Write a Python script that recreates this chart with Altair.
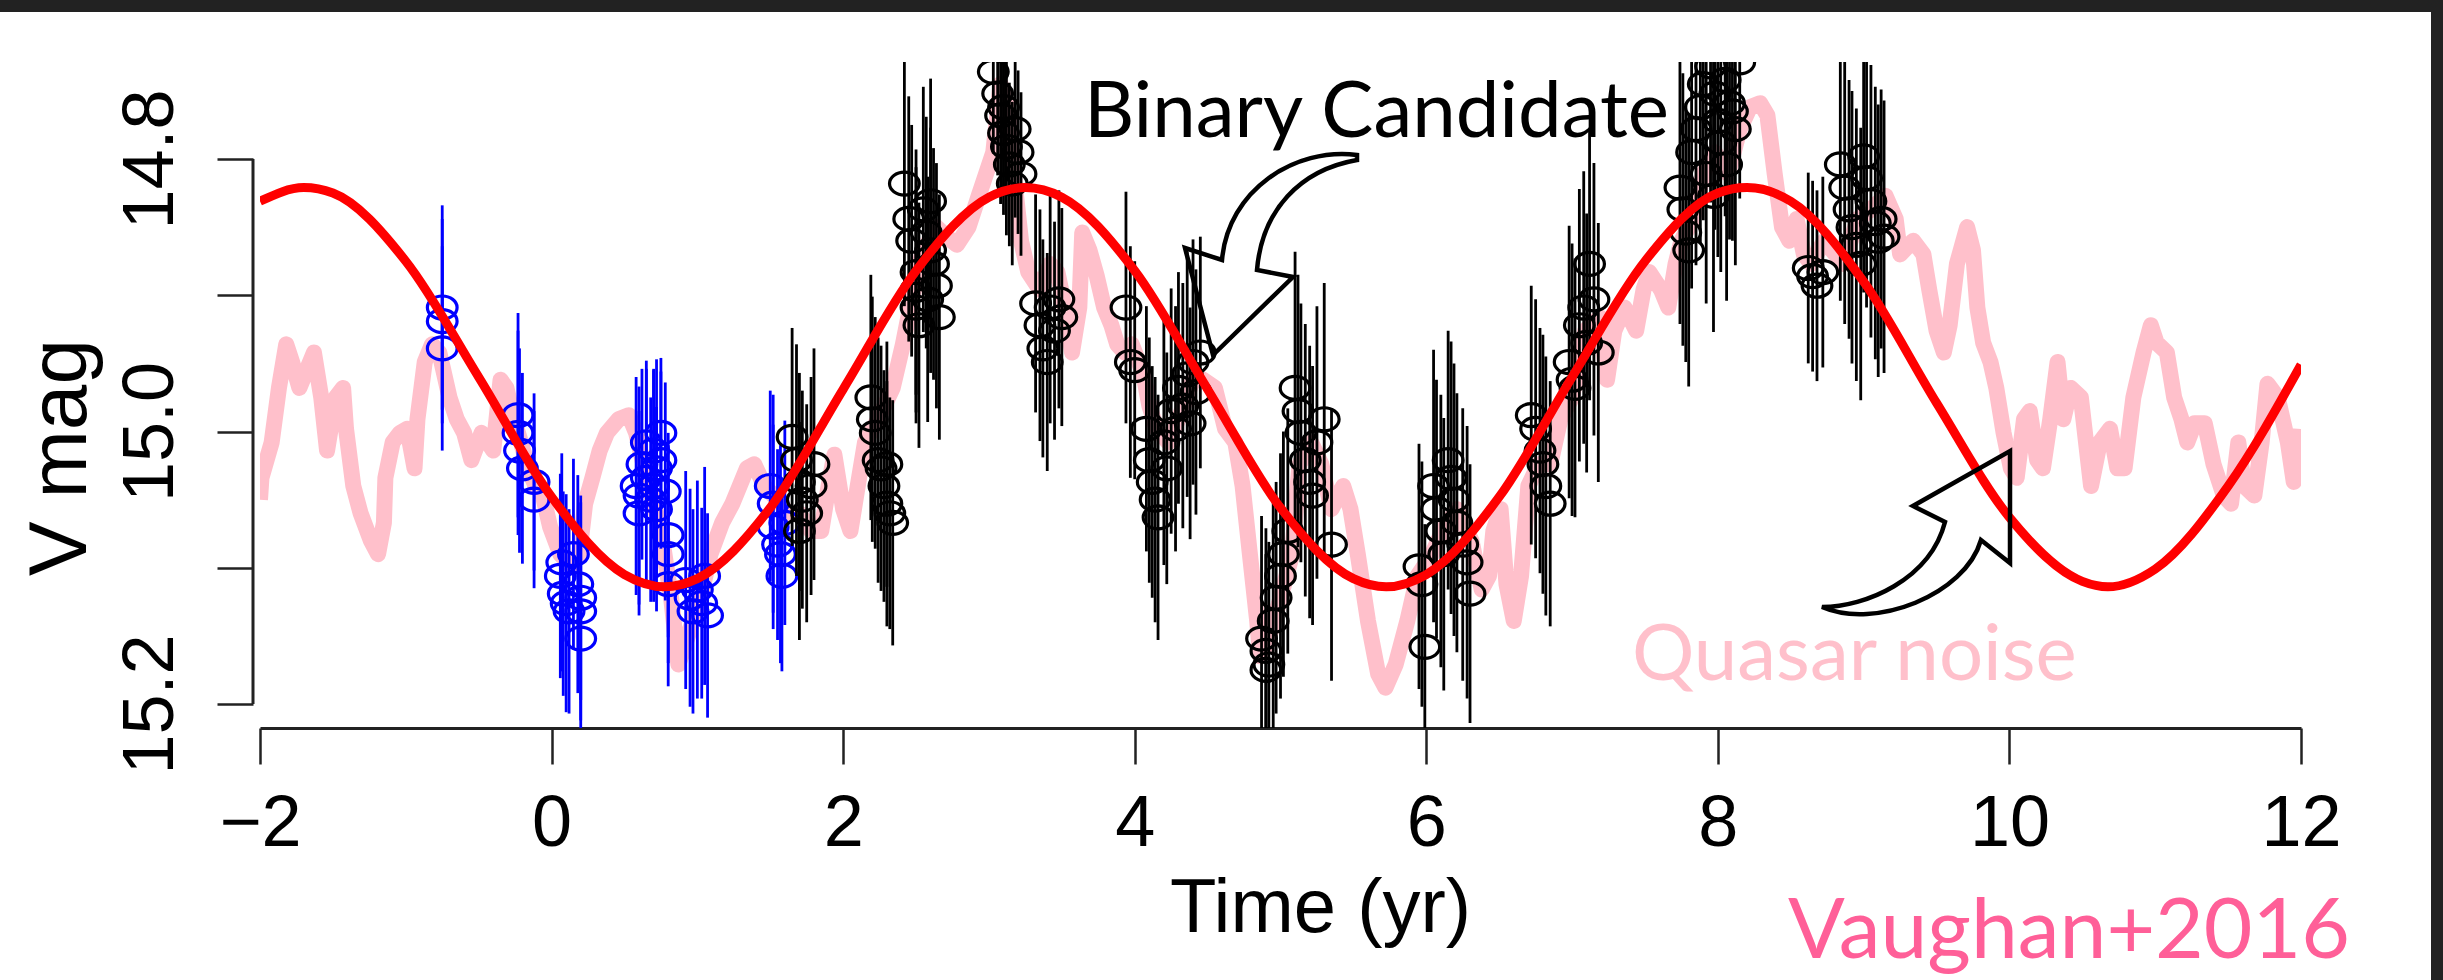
import altair as alt
import pandas as pd

# ---------------- data ----------------
# sinusoidal binary model (red)  (time [yr], V mag)
model_curve = [
    (-2.0, 14.831), (-1.7, 14.821), (-1.5, 14.825), (-1.0, 14.875), (-0.5, 14.960),
    (0.0, 15.048), (0.5, 15.105), (0.775, 15.114), (1.0, 15.108), (1.5, 15.056),
    (2.0, 14.969), (2.5, 14.882), (3.0, 14.828), (3.25, 14.821), (3.5, 14.828),
    (4.0, 14.882), (4.5, 14.969), (5.0, 15.056), (5.5, 15.108), (5.725, 15.114),
    (6.0, 15.105), (6.5, 15.048), (7.0, 14.960), (7.5, 14.875), (8.0, 14.825),
    (8.2, 14.821), (8.5, 14.831), (9.0, 14.890), (9.5, 14.979), (10.0, 15.063),
    (10.5, 15.110), (10.675, 15.114), (11.0, 15.101), (11.5, 15.040), (12.0, 14.951),
]

# quasar red-noise realisation (pink)
pink_noise = [
    (-2.00, 15.050), (-1.99, 15.034), (-1.92, 15.008), (-1.87, 14.968), (-1.82, 14.936),
    (-1.78, 14.949), (-1.73, 14.968), (-1.68, 14.955), (-1.63, 14.942), (-1.58, 14.975),
    (-1.54, 15.014), (-1.48, 14.975), (-1.43, 14.968), (-1.41, 14.998), (-1.36, 15.040),
    (-1.31, 15.060), (-1.24, 15.080), (-1.19, 15.090), (-1.15, 15.067), (-1.14, 15.034),
    (-1.09, 15.008), (-1.04, 15.001), (-0.99, 14.998), (-0.94, 15.027), (-0.92, 14.991),
    (-0.87, 14.949), (-0.82, 14.936), (-0.77, 14.942), (-0.70, 14.975), (-0.65, 14.991),
    (-0.60, 15.001), (-0.55, 15.021), (-0.48, 15.001), (-0.40, 15.014), (-0.35, 14.962),
    (-0.31, 14.968), (-0.26, 14.991), (-0.21, 15.008), (-0.16, 15.027), (-0.11, 15.040),
    (-0.06, 15.047), (-0.01, 15.070), (0.06, 15.090), (0.14, 15.099), (0.19, 15.090),
    (0.23, 15.053), (0.28, 15.034), (0.33, 15.014), (0.38, 15.001), (0.46, 14.991),
    (0.53, 14.988), (0.58, 15.001), (0.63, 15.024), (0.75, 15.073), (0.82, 15.122),
    (0.87, 15.171), (0.92, 15.155), (1.02, 15.122), (1.09, 15.090), (1.17, 15.067),
    (1.24, 15.053), (1.29, 15.040), (1.34, 15.027), (1.39, 15.024), (1.46, 15.040),
    (1.55, 15.050), (1.62, 15.060),
    (1.70, 15.060), (1.78, 15.073), (1.85, 15.073), (1.90, 15.040), (1.94, 15.017),
    (2.00, 15.057), (2.05, 15.073), (2.10, 15.040), (2.15, 15.008), (2.24, 14.991),
    (2.34, 14.968), (2.41, 14.936), (2.46, 14.909), (2.54, 14.870), (2.64, 14.850),
    (2.71, 14.857), (2.78, 14.863), (2.86, 14.850), (2.93, 14.827), (2.98, 14.811),
    (3.03, 14.795), (3.08, 14.745), (3.13, 14.762), (3.17, 14.811), (3.22, 14.860),
    (3.27, 14.883), (3.35, 14.896), (3.42, 14.877), (3.47, 14.883), (3.52, 14.909),
    (3.57, 14.942), (3.62, 14.909), (3.64, 14.854), (3.69, 14.867), (3.74, 14.886),
    (3.79, 14.909), (3.84, 14.922), (3.88, 14.936), (3.93, 14.942), (3.98, 14.936),
    (4.06, 14.958), (4.10, 14.981), (4.15, 14.998), (4.23, 15.008), (4.30, 14.991),
    (4.40, 14.962), (4.47, 14.962), (4.55, 14.968), (4.62, 14.998), (4.69, 15.008),
    (4.74, 15.040), (4.79, 15.090), (4.84, 15.139), (4.86, 15.165), (4.91, 15.155),
    (4.99, 15.126), (5.08, 15.090), (5.13, 15.024), (5.21, 15.008), (5.28, 15.024),
    (5.35, 15.057), (5.43, 15.040),
    (5.48, 15.057), (5.53, 15.090), (5.60, 15.139), (5.67, 15.178), (5.72, 15.188),
    (5.79, 15.171), (5.87, 15.139), (5.94, 15.106), (6.04, 15.090), (6.11, 15.073),
    (6.21, 15.057), (6.31, 15.080), (6.38, 15.116), (6.43, 15.106), (6.46, 15.073),
    (6.51, 15.057), (6.55, 15.112), (6.60, 15.139), (6.65, 15.106), (6.70, 15.040),
    (6.77, 15.024), (6.85, 15.024), (6.92, 14.991), (7.00, 14.975), (7.09, 14.926),
    (7.19, 14.916), (7.24, 14.962), (7.29, 14.926), (7.36, 14.909), (7.44, 14.926),
    (7.49, 14.896), (7.53, 14.883), (7.61, 14.896), (7.66, 14.909), (7.71, 14.877),
    (7.75, 14.860), (7.83, 14.844), (7.90, 14.811), (7.98, 14.795), (8.07, 14.811),
    (8.15, 14.778), (8.22, 14.762), (8.29, 14.759), (8.34, 14.768), (8.39, 14.811),
    (8.44, 14.850), (8.49, 14.860), (8.54, 14.844), (8.59, 14.870), (8.64, 14.877),
    (8.73, 14.860), (8.86, 14.877), (8.96, 14.844), (9.05, 14.837), (9.15, 14.827),
    (9.22, 14.844),
    (9.25, 14.870), (9.34, 14.860), (9.41, 14.870), (9.45, 14.896), (9.50, 14.926),
    (9.55, 14.942), (9.59, 14.922), (9.64, 14.877), (9.71, 14.850), (9.75, 14.867),
    (9.78, 14.909), (9.82, 14.935), (9.87, 14.949), (9.91, 14.968), (9.96, 15.001),
    (10.01, 15.027), (10.05, 15.034), (10.10, 14.991), (10.14, 14.985), (10.19, 15.021),
    (10.23, 15.027), (10.28, 14.991), (10.33, 14.949), (10.37, 14.991), (10.42, 14.968),
    (10.49, 14.975), (10.56, 15.040), (10.62, 15.008), (10.69, 14.998), (10.74, 15.027),
    (10.79, 15.027), (10.85, 14.975), (10.92, 14.942), (10.97, 14.922), (11.01, 14.935),
    (11.08, 14.942), (11.13, 14.975), (11.18, 14.991), (11.22, 15.008), (11.27, 14.994),
    (11.34, 14.994), (11.40, 15.024), (11.47, 15.047), (11.52, 15.053), (11.57, 15.008),
    (11.61, 15.040), (11.68, 15.047), (11.73, 15.008), (11.77, 14.965), (11.84, 14.975),
    (11.91, 15.008), (11.95, 15.037), (11.98, 14.998),
]

# archival photometry (blue): time, mag, 1-sigma error
blue_points = [
    (-0.75, 14.909, 0.075), (-0.75, 14.919, 0.075), (-0.75, 14.939, 0.075),
    (-0.23, 14.988, 0.075), (-0.23, 15.001, 0.075), (-0.22, 15.014, 0.075),
    (-0.20, 15.027, 0.070), (-0.12, 15.037, 0.065), (-0.12, 15.050, 0.065),
    (0.06, 15.106, 0.075), (0.07, 15.096, 0.080), (0.08, 15.119, 0.075),
    (0.10, 15.126, 0.080), (0.12, 15.132, 0.075), (0.15, 15.090, 0.070),
    (0.18, 15.112, 0.080), (0.20, 15.122, 0.075), (0.20, 15.132, 0.080),
    (0.20, 15.152, 0.070),
    (0.58, 15.040, 0.080), (0.60, 15.047, 0.080), (0.60, 15.060, 0.075),
    (0.62, 15.024, 0.070), (0.65, 15.008, 0.060), (0.65, 15.034, 0.080),
    (0.68, 15.050, 0.075), (0.70, 15.014, 0.060), (0.70, 15.040, 0.085),
    (0.72, 15.027, 0.080), (0.72, 15.057, 0.075), (0.75, 15.001, 0.055),
    (0.75, 15.021, 0.065), (0.78, 15.044, 0.080), (0.80, 15.076, 0.075),
    (0.80, 15.090, 0.080), (0.80, 15.112, 0.075),
    (0.92, 15.109, 0.080), (0.95, 15.122, 0.080), (0.97, 15.132, 0.075),
    (1.00, 15.116, 0.080), (1.03, 15.126, 0.070), (1.05, 15.106, 0.080),
    (1.07, 15.135, 0.075),
    (1.50, 15.040, 0.070), (1.52, 15.053, 0.080), (1.52, 15.070, 0.075),
    (1.55, 15.083, 0.070), (1.57, 15.090, 0.080), (1.58, 15.106, 0.070),
    (1.60, 15.067, 0.075),
]

# CRTS photometry (black): time, mag, 1-sigma error
black_points = [
    (1.65, 15.004, 0.080), (1.68, 15.021, 0.085), (1.70, 15.037, 0.080), (1.70, 15.073, 0.080),
    (1.72, 15.050, 0.080), (1.75, 15.060, 0.080), (1.78, 15.040, 0.080), (1.80, 15.024, 0.085),
    (2.19, 14.975, 0.090), (2.20, 14.991, 0.090), (2.22, 15.001, 0.085), (2.24, 15.021, 0.090),
    (2.26, 15.027, 0.090), (2.28, 15.040, 0.085), (2.30, 15.024, 0.090), (2.30, 15.053, 0.090),
    (2.32, 15.060, 0.085), (2.34, 15.067, 0.090),
    (2.42, 14.818, 0.090), (2.45, 14.844, 0.090), (2.47, 14.860, 0.085), (2.50, 14.883, 0.090),
    (2.50, 14.896, 0.090), (2.50, 14.909, 0.085), (2.52, 14.922, 0.090), (2.55, 14.837, 0.090),
    (2.57, 14.854, 0.085), (2.58, 14.903, 0.090), (2.60, 14.831, 0.090), (2.60, 14.867, 0.090),
    (2.62, 14.877, 0.085), (2.64, 14.893, 0.090), (2.66, 14.916, 0.090),
    (3.03, 14.736, 0.060), (3.06, 14.752, 0.060), (3.08, 14.768, 0.065), (3.10, 14.762, 0.060),
    (3.10, 14.781, 0.060), (3.12, 14.791, 0.065), (3.14, 14.804, 0.060), (3.16, 14.818, 0.060),
    (3.18, 14.778, 0.065), (3.20, 14.795, 0.060), (3.22, 14.811, 0.060),
    (3.32, 14.906, 0.080), (3.35, 14.922, 0.085), (3.37, 14.939, 0.080), (3.40, 14.949, 0.080),
    (3.42, 14.909, 0.085), (3.45, 14.926, 0.080), (3.48, 14.903, 0.080), (3.50, 14.916, 0.080),
    (3.94, 14.909, 0.085), (3.97, 14.949, 0.085), (4.00, 14.955, 0.080),
    (4.08, 14.998, 0.090), (4.10, 15.021, 0.090), (4.12, 15.037, 0.085), (4.14, 15.050, 0.090),
    (4.16, 15.063, 0.090), (4.20, 15.008, 0.090), (4.22, 15.027, 0.085), (4.25, 14.985, 0.090),
    (4.28, 14.998, 0.090), (4.30, 14.968, 0.085), (4.33, 14.981, 0.090), (4.36, 14.958, 0.090),
    (4.38, 14.994, 0.085), (4.40, 14.949, 0.090), (4.42, 14.971, 0.090), (4.45, 14.942, 0.085),
    (4.87, 15.152, 0.090), (4.90, 15.161, 0.090), (4.90, 15.175, 0.085), (4.92, 15.171, 0.090),
    (4.95, 15.139, 0.090), (4.97, 15.122, 0.085), (5.00, 15.106, 0.090), (5.02, 15.090, 0.090),
    (5.05, 15.073, 0.090),
    (5.10, 14.968, 0.100), (5.12, 14.985, 0.100), (5.14, 15.001, 0.095), (5.17, 15.021, 0.100),
    (5.20, 15.037, 0.100), (5.22, 15.047, 0.095), (5.25, 15.008, 0.100), (5.30, 14.991, 0.100),
    (5.35, 15.083, 0.100),
    (5.95, 15.099, 0.090), (5.97, 15.112, 0.090), (5.99, 15.158, 0.090), (6.05, 15.040, 0.100),
    (6.07, 15.057, 0.095), (6.10, 15.073, 0.100), (6.12, 15.090, 0.100), (6.15, 15.021, 0.095),
    (6.17, 15.034, 0.100), (6.19, 15.050, 0.100), (6.21, 15.067, 0.095), (6.25, 15.083, 0.100),
    (6.28, 15.096, 0.100), (6.30, 15.119, 0.095),
    (6.72, 14.988, 0.095), (6.75, 14.998, 0.095), (6.78, 15.014, 0.090), (6.80, 15.024, 0.095),
    (6.82, 15.040, 0.095), (6.85, 15.053, 0.090),
    (6.98, 14.949, 0.100), (7.00, 14.962, 0.100), (7.02, 14.968, 0.095), (7.05, 14.922, 0.100),
    (7.08, 14.909, 0.100), (7.10, 14.935, 0.095), (7.12, 14.877, 0.100), (7.15, 14.903, 0.100),
    (7.18, 14.942, 0.095),
    (7.74, 14.821, 0.100), (7.76, 14.837, 0.100), (7.78, 14.854, 0.095), (7.80, 14.867, 0.100),
    (7.82, 14.795, 0.100), (7.85, 14.778, 0.100), (7.88, 14.762, 0.100), (7.90, 14.745, 0.100),
    (7.92, 14.811, 0.095), (7.95, 14.732, 0.100), (7.97, 14.827, 0.100), (7.98, 14.752, 0.100),
    (8.00, 14.772, 0.100), (8.02, 14.788, 0.095), (8.05, 14.742, 0.100), (8.06, 14.804, 0.100),
    (8.08, 14.759, 0.100), (8.10, 14.765, 0.095), (8.12, 14.778, 0.100), (8.15, 14.729, 0.100),
    (8.62, 14.880, 0.070), (8.65, 14.886, 0.070), (8.68, 14.893, 0.070), (8.72, 14.883, 0.070),
    (8.84, 14.804, 0.100), (8.87, 14.821, 0.100), (8.90, 14.837, 0.095), (8.92, 14.850, 0.100),
    (8.95, 14.863, 0.100), (8.98, 14.877, 0.100), (9.00, 14.798, 0.100), (9.02, 14.814, 0.095),
    (9.05, 14.831, 0.100), (9.08, 14.847, 0.100), (9.10, 14.860, 0.100), (9.12, 14.844, 0.095),
    (9.14, 14.857, 0.100),
]

x_ticks = [-2, 0, 2, 4, 6, 8, 10, 12]
y_ticks = [14.8, 14.9, 15.0, 15.1, 15.2]
y_axis_span = [(14.8, 15.2)]
x_domain = [-2, 12]
y_domain = [14.7288, 15.2176]

# ---------------- layout / style ----------------
W, H = 2041, 666
PAD = {"left": 260, "top": 62, "right": 142, "bottom": 252}
AXFONT = "Liberation Sans"
ANNFONT = "Lato"

model_df = pd.DataFrame(model_curve, columns=["t", "v"])
pink_df = pd.DataFrame(pink_noise, columns=["t", "v"])
blue_df = pd.DataFrame(blue_points, columns=["t", "v", "e"])
black_df = pd.DataFrame(black_points, columns=["t", "v", "e"])
span_df = pd.DataFrame(y_axis_span, columns=["v", "hi"])

xs = alt.Scale(domain=x_domain, nice=False, zero=False)
ys = alt.Scale(domain=y_domain, reverse=True, nice=False, zero=False)

x_axis = alt.Axis(
    values=x_ticks, format="d", title="Time (yr)", grid=False,
    labelFont=AXFONT, labelFontSize=72, labelColor="#000", labelBaseline="alphabetic",
    labelPadding=81, labelFlush=False, labelOverlap=False,
    tickSize=36, tickWidth=2.5, tickColor="#222", domainColor="#222", domainWidth=3,
    titleFont=AXFONT, titleFontSize=76, titleFontWeight="normal", titleColor="#000",
    titleX=1060, titleY=203, titleBaseline="alphabetic", titleAlign="center",
)
y_axis = alt.Axis(
    values=y_ticks, grid=False, domain=False, offset=7,
    labelExpr="round(datum.value*10)%2==1 ? '' : format(datum.value, '.1f')",
    labelAngle=270, labelAlign="center", labelBaseline="alphabetic", labelPadding=45,
    labelFont=AXFONT, labelFontSize=72, labelColor="#000", labelOverlap=False,
    tickSize=36, tickWidth=2.5, tickColor="#222",
    title="V mag", titleAngle=270, titleFont=AXFONT, titleFontSize=82,
    titleFontWeight="normal", titleColor="#000",
    titleX=-168, titleY=395, titleBaseline="alphabetic", titleAlign="center",
)

X = alt.X("t:Q", scale=xs, axis=x_axis)


def Y(field):
    return alt.Y(field, type="quantitative", scale=ys, axis=y_axis)


one = pd.DataFrame({"k": [0]})

frame_top = alt.Chart(one).mark_rect(color="#222222").encode(
    x=alt.value(-PAD["left"]), x2=alt.value(W + PAD["right"]),
    y=alt.value(-PAD["top"]), y2=alt.value(-PAD["top"] + 12))
frame_right = alt.Chart(one).mark_rect(color="#222222").encode(
    x=alt.value(W + PAD["right"] - 12), x2=alt.value(W + PAD["right"]),
    y=alt.value(-PAD["top"]), y2=alt.value(H + PAD["bottom"]))

pink = alt.Chart(pink_df).mark_line(
    color="#ffc0cb", strokeWidth=16, strokeJoin="round", clip=True
).encode(x=X, y=Y("v"))

ELLIPSE = "M -1.29 0 A 1.29 1 0 1 0 1.29 0 A 1.29 1 0 1 0 -1.29 0 Z"


def errbars(df, color):
    return alt.Chart(df).transform_calculate(
        lo="datum.v - datum.e", hi="datum.v + datum.e"
    ).mark_rule(color=color, strokeWidth=2.8, clip=True).encode(
        x=X, y=Y("lo"), y2="hi:Q")


def rings(df, color):
    return alt.Chart(df).mark_point(
        shape=ELLIPSE, size=530, filled=False, color=color, strokeWidth=3.2,
        opacity=1, clip=True
    ).encode(x=X, y=Y("v"))


red = alt.Chart(model_df).mark_line(
    color="#ff0000", strokeWidth=9, interpolate="monotone", clip=True
).encode(x=X, y=Y("v"))

yline = alt.Chart(span_df).mark_rule(color="#222", strokeWidth=3).encode(
    x=alt.value(-7), y=Y("v"), y2="hi:Q")


def label(text, x, y, size, color, align="left"):
    return alt.Chart(pd.DataFrame({"txt": [text]})).mark_text(
        font=ANNFONT, fontSize=size, color=color, align=align, baseline="alphabetic"
    ).encode(x=alt.value(x), y=alt.value(y), text="txt:N")


ARROW_BINARY = ("M 0.87 -1 C 0.25 -1.08 -0.42 -0.65 -0.48 0.05 L -0.85 -0.07 "
                "L -0.57 1 L 0.23 0.22 L -0.13 0.15 C -0.08 -0.45 0.3 -0.85 0.87 -0.95 Z")
ARROW_NOISE = ("M 0.95 -0.84 L 0.95 0.28 L 0.66 0.05 C 0.5 0.6 -0.4 0.95 -0.93 0.72 "
               "C -0.5 0.72 0.15 0.45 0.3 -0.13 L -0.02 -0.29 Z")


def arrow(path, x, y):
    return alt.Chart(one).mark_point(
        shape=path, size=40000, filled=False, color="black", strokeWidth=4.5,
        opacity=1, strokeJoin="miter"
    ).encode(x=alt.value(x), y=alt.value(y))


chart = alt.layer(
    pink,
    errbars(blue_df, "#0000ff"), rings(blue_df, "#0000ff"),
    errbars(black_df, "#000000"), rings(black_df, "#000000"),
    red, yline,
    frame_top, frame_right,
    label("Binary Candidate", 824, 75, 78, "#000000"),
    label("Quasar noise", 1372, 618, 78, "#ffc0cb"),
    label("Vaughan+2016", 2090, 896, 84, "#ff5f98", align="right"),
    arrow(ARROW_BINARY, 1010, 193),
    arrow(ARROW_NOISE, 1655, 473),
).properties(
    width=W, height=H, padding=PAD,
    autosize=alt.AutoSizeParams(type="none"),
).configure(background="white").configure_view(stroke=None)

chart.save("out.html", embed_options={"renderer": "svg", "actions": False})
